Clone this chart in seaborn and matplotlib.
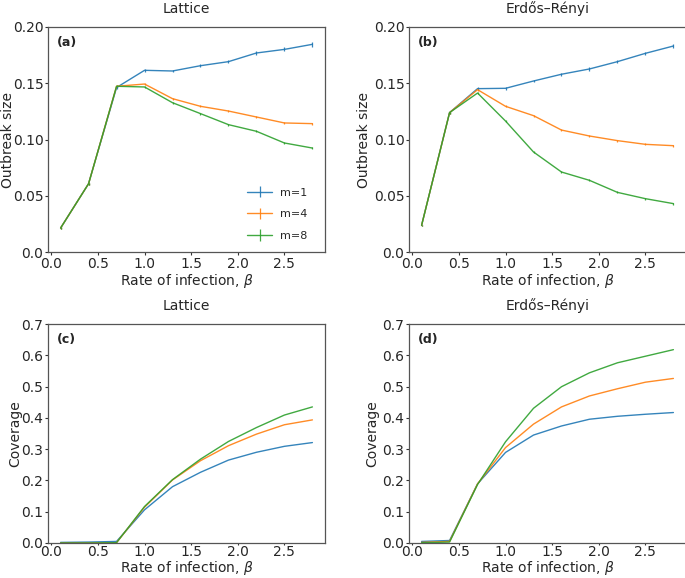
import matplotlib
matplotlib.use("Agg")
import matplotlib.pyplot as plt
import seaborn as sns
import numpy as np
import pandas as pd

sns.set_style("white")
plt.rcParams['font.family'] = ['DejaVu Sans']

beta = [0.1, 0.4, 0.7, 1.0, 1.3, 1.6, 1.9, 2.2, 2.5, 2.8]
m_labels = ["m=1", "m=4", "m=8"]

# Outbreak size, lattice (a)
lat_out_m1 = [0.0213, 0.0607, 0.1462, 0.1615, 0.1609, 0.1656, 0.1692, 0.1769, 0.1801, 0.1846]
lat_out_m4 = [0.0213, 0.0607, 0.1473, 0.1493, 0.1363, 0.1295, 0.1253, 0.1200, 0.1147, 0.1141]
lat_out_m8 = [0.0213, 0.0607, 0.1473, 0.1467, 0.1327, 0.1230, 0.1132, 0.1073, 0.0969, 0.0924]
lat_err_m1 = [0.0005, 0.0008, 0.0012, 0.0012, 0.0012, 0.0014, 0.0014, 0.0016, 0.0017, 0.0020]
lat_err_m4 = [0.0005, 0.0008, 0.0010, 0.0010, 0.0010, 0.0010, 0.0010, 0.0010, 0.0010, 0.0010]
lat_err_m8 = [0.0005, 0.0008, 0.0010, 0.0010, 0.0008, 0.0008, 0.0008, 0.0008, 0.0008, 0.0008]

# Outbreak size, Erdős–Rényi (b)
er_out_m1 = [0.0237, 0.1239, 0.1452, 0.1455, 0.1520, 0.1580, 0.1627, 0.1692, 0.1766, 0.1831]
er_out_m4 = [0.0237, 0.1239, 0.1443, 0.1295, 0.1212, 0.1084, 0.1031, 0.0990, 0.0957, 0.0945]
er_out_m8 = [0.0237, 0.1239, 0.1413, 0.1164, 0.0889, 0.0711, 0.0637, 0.0530, 0.0474, 0.0430]
er_err_m1 = [0.0005, 0.0008, 0.0012, 0.0012, 0.0012, 0.0013, 0.0014, 0.0015, 0.0016, 0.0018]
er_err_m4 = [0.0005, 0.0008, 0.0010, 0.0010, 0.0010, 0.0010, 0.0010, 0.0010, 0.0010, 0.0010]
er_err_m8 = [0.0005, 0.0008, 0.0010, 0.0010, 0.0008, 0.0008, 0.0010, 0.0008, 0.0008, 0.0008]

# Coverage, lattice (c)
lat_cov_m1 = [0.002, 0.003, 0.005, 0.106, 0.180, 0.226, 0.265, 0.290, 0.309, 0.321]
lat_cov_m4 = [0.000, 0.000, 0.001, 0.1145, 0.2015, 0.263, 0.311, 0.348, 0.378, 0.3935]
lat_cov_m8 = [0.000, 0.000, 0.001, 0.1167, 0.2026, 0.268, 0.3245, 0.369, 0.409, 0.435]

# Coverage, Erdős–Rényi (d)
er_cov_m1 = [0.005, 0.008, 0.189, 0.2895, 0.345, 0.374, 0.3956, 0.405, 0.4115, 0.417]
er_cov_m4 = [0.002, 0.005, 0.189, 0.305, 0.380, 0.435, 0.470, 0.493, 0.514, 0.526]
er_cov_m8 = [0.001, 0.003, 0.187, 0.3235, 0.4306, 0.4995, 0.544, 0.576, 0.597, 0.618]

xticks = [0.0, 0.5, 1.0, 1.5, 2.0, 2.5]
xticklabels = ["0.0", "0.5", "1.0", "1.5", "2.0", "2.5"]
out_yticks = [0.0, 0.05, 0.10, 0.15, 0.20]
out_yticklabels = ["0.0", "0.05", "0.10", "0.15", "0.20"]
cov_yticks = [0.0, 0.1, 0.2, 0.3, 0.4, 0.5, 0.6, 0.7]
cov_yticklabels = ["0.0", "0.1", "0.2", "0.3", "0.4", "0.5", "0.6", "0.7"]

colors = sns.color_palette("tab10", 3)

W, H = 685, 578
fig = plt.figure(figsize=(W / 100, H / 100), dpi=100)

def px_axes(x0, y0, x1, y1):
    return fig.add_axes([x0 / W, 1 - y1 / H, (x1 - x0) / W, (y1 - y0) / H])

ax_a = px_axes(48, 27, 325, 252)
ax_b = px_axes(409, 27, 686, 252)
ax_c = px_axes(48, 324, 325, 543)
ax_d = px_axes(409, 324, 686, 543)

TICK = 10
LAB = 10

def style(ax, title, ylabel, yticks, yticklabels, ylim, tag, top_row, ylpad):
    ax.set_xlim(-0.035, 2.935)
    ax.set_ylim(*ylim)
    ax.set_xticks(xticks)
    ax.set_xticklabels(xticklabels)
    ax.set_yticks(yticks)
    ax.set_yticklabels(yticklabels)
    ax.tick_params(axis='y', labelsize=TICK, direction='out', length=2.5,
                   width=0.8, color='#333333', left=True, pad=0.8)
    if top_row:
        ax.tick_params(axis='x', labelsize=TICK, direction='out', length=2.5,
                       width=0.8, color='#333333', bottom=True, pad=1.0)
    else:
        ax.tick_params(axis='x', labelsize=TICK, direction='out', length=1.5,
                       width=0.8, color='#333333', bottom=True, pad=0.3)
    for s in ax.spines.values():
        s.set_color('#555555')
        s.set_linewidth(0.9)
    ax.set_title(title, fontsize=LAB, pad=10.0)
    ax.set_ylabel(ylabel, fontsize=LAB, labelpad=ylpad)
    ax.set_xlabel(r"Rate of infection, $\beta$", fontsize=LAB,
                  labelpad=0.8 if top_row else -0.6)
    ax.text(0.032, 0.93, tag, transform=ax.transAxes, fontsize=9,
            fontweight='bold', ha='left', va='center')

# top panels with error bars
for ax, ys, es in [
    (ax_a, [lat_out_m1, lat_out_m4, lat_out_m8], [lat_err_m1, lat_err_m4, lat_err_m8]),
    (ax_b, [er_out_m1, er_out_m4, er_out_m8], [er_err_m1, er_err_m4, er_err_m8]),
]:
    for y, e, c, lab in zip(ys, es, colors, m_labels):
        ax.errorbar(beta, y, yerr=e, color=c, lw=1.0, elinewidth=0.9,
                    capsize=0, label=lab, alpha=0.9)

# bottom panels via seaborn
def long_df(series):
    rows = []
    for lab, y in zip(m_labels, series):
        for b, v in zip(beta, y):
            rows.append({"beta": b, "value": v, "m": lab})
    return pd.DataFrame(rows)

sns.lineplot(data=long_df([lat_cov_m1, lat_cov_m4, lat_cov_m8]), x="beta", y="value",
             hue="m", palette=colors, lw=1.0, ax=ax_c, legend=False, alpha=0.9)
sns.lineplot(data=long_df([er_cov_m1, er_cov_m4, er_cov_m8]), x="beta", y="value",
             hue="m", palette=colors, lw=1.0, ax=ax_d, legend=False, alpha=0.9)

style(ax_a, "Lattice", "Outbreak size", out_yticks, out_yticklabels, (0, 0.2), "(a)", True, -1.5)
style(ax_b, "Erdős–Rényi", "Outbreak size", out_yticks, out_yticklabels, (0, 0.2), "(b)", True, 2.0)
style(ax_c, "Lattice", "Coverage", cov_yticks, cov_yticklabels, (0, 0.7), "(c)", False, -0.5)
style(ax_d, "Erdős–Rényi", "Coverage", cov_yticks, cov_yticklabels, (0, 0.7), "(d)", False, 2.0)

leg = ax_a.legend(loc='lower right', frameon=False, fontsize=8, labelspacing=1.05,
                  handlelength=2.2, handletextpad=0.7, borderaxespad=0.6,
                  bbox_to_anchor=(0.975, 0.0))

fig.savefig("out.png", dpi=100)
